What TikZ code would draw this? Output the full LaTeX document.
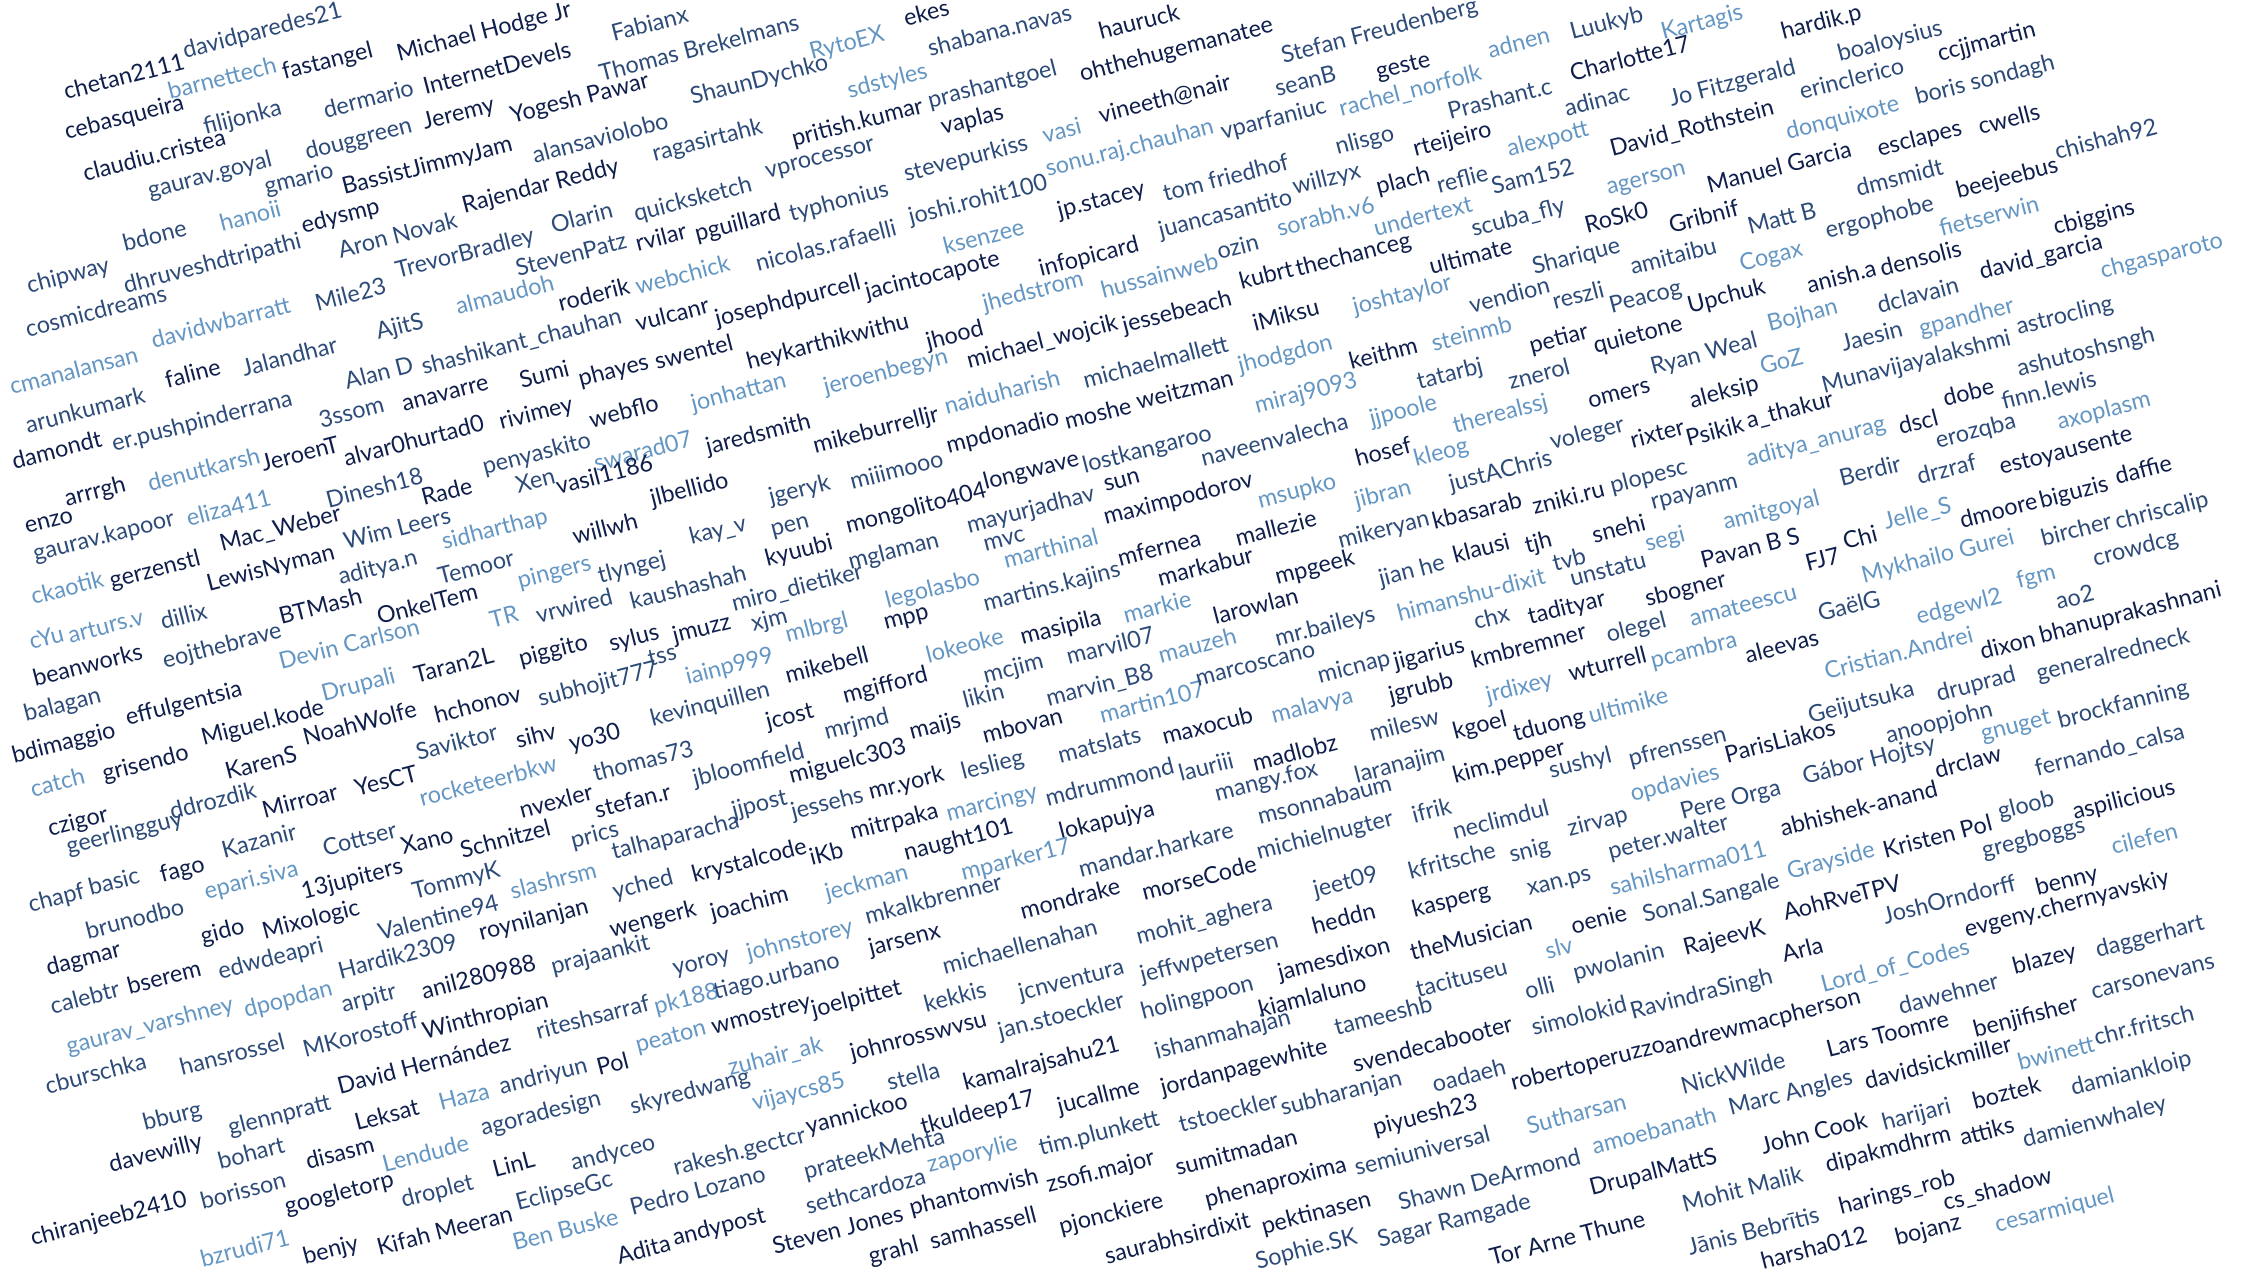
\documentclass[tikz,border=0pt]{standalone}
\usepackage{fontspec}
\setmainfont{Lato}
\definecolor{cd}{HTML}{0F1E4B}
\definecolor{cm}{HTML}{2D4B78}
\definecolor{cl}{HTML}{6496C3}
\newcounter{wc}
\def\OX{0}\def\OY{0}
\newcommand\Wx[4]{\stepcounter{wc}\node[wrd,text=#1] (w\arabic{wc}) at ({\OX+#2/2.703},{-(\OY+#3/3)}) {#4};}
\newcommand\Wd{\Wx{cd}}
\newcommand\Wm{\Wx{cm}}
\newcommand\Wl{\Wx{cl}}
\tikzset{wrd/.style={anchor=base west,rotate=14.5,inner sep=0pt,font=\fontsize{23.4}{27}\selectfont}}
\begin{document}
\begin{tikzpicture}[x=1pt,y=1pt]
\fill[white] (0,0) rectangle (2244,-1286);
\useasboundingbox (0,0) rectangle (2244,-1286);
% zoom 1
\def\OX{0}\def\OY{0}
\Wm{500}{175}{davidparedes21}
\Wd{178}{300}{chetan2111}
\Wl{460}{300}{barnettech}
\Wd{768}{240}{fastangel}
\Wd{1078}{185}{Michael Hodge Jr}
\Wd{180}{420}{cebasqueira}
\Wm{555}{405}{filijonka}
\Wm{880}{355}{dermario}
\Wd{1150}{285}{InternetDevels}
\Wd{230}{545}{claudiu.cristea}
\Wm{830}{480}{douggreen}
\Wd{1148}{390}{Jeremy}
\Wd{1385}{370}{Yogesh Pawar}
\Wm{405}{595}{gaurav.goyal}
\Wm{720}{585}{gmario}
\Wd{930}{585}{BassistJimmyJam}
\Wm{1445}{490}{alansaviolobo}
\Wm{338}{755}{bdone}
\Wl{600}{695}{hanoii}
\Wd{820}{700}{edysmp}
\Wd{1255}{640}{Rajendar Reddy}
\Wm{78}{880}{chipway}
\Wm{340}{880}{dhruveshdtripathi}
\Wm{920}{775}{Aron Novak}
\Wm{1075}{835}{TrevorBradley}
\Wm{1495}{700}{Olarin}
\Wm{75}{1012}{cosmicdreams}
\Wl{415}{1045}{davidwbarratt}
\Wm{858}{935}{Mile23}
\Wm{1400}{830}{StevenPatz}
\Wl{1238}{945}{almaudoh}
\Wd{1515}{935}{roderik}
\Wl{32}{1185}{cmanalansan}
\Wd{452}{1165}{faline}
\Wm{660}{1130}{Jalandhar}
\Wm{1022}{1020}{AjitS}
\Wm{938}{1170}{Alan D}
\Wm{1145}{1125}{shashikant\_chauhan}
\Wm{75}{1300}{arunkumark}
\Wm{868}{1285}{3ssom}
\Wd{1092}{1235}{anavarre}
\Wd{1410}{1165}{Sumi}
\Wd{1355}{1290}{rivimey}
% zoom 2
\def\OX{560}\def\OY{0}
\Wm{145}{125}{Fabianx}
\Wm{112}{245}{Thomas Brekelmans}
\Wl{680}{180}{RytoEX}
\Wd{935}{80}{ekes}
\Wm{1000}{170}{shabana.navas}
\Wd{1462}{120}{hauruck}
\Wm{358}{315}{ShaunDychko}
\Wl{782}{295}{sdstyles}
\Wm{1000}{325}{prashantgoel}
\Wd{1410}{245}{ohthehugemanatee}
\Wm{255}{485}{ragasirtahk}
\Wd{632}{440}{pritish.kumar}
\Wd{1035}{405}{vaplas}
\Wl{1310}{430}{vasi}
\Wd{1462}{370}{vineeth@nair}
\Wm{205}{665}{quicksketch}
\Wm{560}{535}{vprocessor}
\Wm{935}{545}{stevepurkiss}
\Wl{1318}{530}{sonu.raj.chauhan}
\Wd{210}{755}{rvilar}
\Wd{370}{725}{pguillard}
\Wm{625}{665}{typhonius}
\Wm{948}{675}{joshi.rohit100}
\Wd{1350}{655}{jp.stacey}
\Wm{535}{815}{nicolas.rafaelli}
\Wl{1042}{765}{ksenzee}
\Wd{1300}{830}{infopicard}
\Wl{210}{885}{webchick}
\Wd{425}{980}{josephdpurcell}
\Wd{830}{900}{jacintocapote}
\Wl{1148}{935}{jhedstrom}
\Wl{1468}{895}{hussainweb}
\Wd{210}{995}{vulcanr}
\Wd{55}{1160}{phayes}
\Wd{262}{1110}{swentel}
\Wd{510}{1110}{heykarthikwithu}
\Wd{995}{1050}{jhood}
\Wd{1105}{1105}{michael\_wojcik}
\Wd{85}{1285}{webflo}
\Wl{360}{1235}{jonhattan}
\Wl{718}{1185}{jeroenbegyn}
\Wl{1045}{1245}{naiduharish}
\Wm{1420}{1165}{michaelmallett}
\Wd{1370}{1290}{moshe}
% zoom 3
\def\OX{1120}\def\OY{0}
\Wm{442}{190}{Stefan Freudenberg}
\Wl{1000}{175}{adnen}
\Wm{1222}{120}{Luukyb}
\Wl{1468}{120}{Kartagis}
\Wm{425}{290}{seanB}
\Wd{697}{240}{geste}
\Wl{598}{350}{rachel\_norfolk}
\Wd{1222}{245}{Charlotte17}
\Wm{892}{360}{Prashant.c}
\Wm{1207}{350}{adinac}
\Wm{278}{420}{vparfaniuc}
\Wm{588}{465}{nlisgo}
\Wd{798}{470}{rteijeiro}
\Wl{1052}{470}{alexpott}
\Wd{1330}{470}{David\_Rothstein}
\Wm{122}{605}{tom friedhof}
\Wm{472}{585}{willzyx}
\Wd{698}{585}{plach}
\Wm{862}{580}{reflie}
\Wm{1010}{585}{Sam152}
\Wl{1320}{585}{agerson}
\Wm{110}{715}{juancasantito}
\Wl{430}{710}{sorabh.v6}
\Wl{692}{710}{undertext}
\Wm{955}{710}{scuba\_fly}
\Wd{1262}{700}{RoSk0}
\Wd{1490}{700}{Gribnif}
\Wm{268}{780}{ozin}
\Wd{328}{870}{kubrt}
\Wd{480}{830}{thechanceg}
\Wd{842}{825}{ultimate}
\Wm{1120}{825}{Sharique}
\Wm{1385}{825}{amitaibu}
\Wd{12}{1000}{jessebeach}
\Wd{365}{995}{iMiksu}
\Wl{635}{945}{joshtaylor}
\Wm{950}{940}{vendion}
\Wm{1175}{930}{reszli}
\Wm{1328}{940}{Peacog}
\Wd{1540}{940}{Upchuk}
\Wl{325}{1120}{jhodgdon}
\Wd{625}{1110}{keithm}
\Wl{848}{1055}{steinmb}
\Wd{1112}{1060}{petiar}
\Wd{1285}{1060}{quietone}
\Wm{1440}{1125}{Ryan Weal}
\Wd{50}{1230}{weitzman}
\Wl{370}{1240}{miraj9093}
\Wm{808}{1170}{tatarbj}
\Wm{1055}{1170}{znerol}
\Wd{1270}{1225}{omers}
\Wl{680}{1280}{jjpoole}
\Wl{905}{1300}{therealssj}
% zoom 4
\def\OX{1664}\def\OY{0}
\Wd{322}{120}{hardik.p}
\Wm{475}{185}{boaloysius}
\Wd{745}{185}{ccjjmartin}
\Wm{20}{320}{Jo Fitzgerald}
\Wm{372}{300}{erinclerico}
\Wm{685}{315}{boris sondagh}
\Wl{335}{420}{donquixote}
\Wd{122}{580}{Manuel Garcia}
\Wd{582}{470}{esclapes}
\Wd{855}{405}{cwells}
\Wm{525}{590}{dmsmidt}
\Wm{1062}{480}{chishah92}
\Wd{795}{595}{beejeebus}
\Wm{232}{705}{Matt B}
\Wm{442}{715}{ergophobe}
\Wl{750}{710}{fietserwin}
\Wd{1058}{705}{cbiggins}
\Wl{210}{815}{Cogax}
\Wd{392}{880}{anish.a}
\Wd{590}{830}{densolis}
\Wd{858}{840}{david\_garcia}
\Wl{1185}{835}{chgasparoto}
\Wl{285}{995}{Bojhan}
\Wm{582}{940}{dclavain}
\Wm{485}{1055}{Jaesin}
\Wl{695}{1010}{gpandher}
\Wm{958}{1005}{astrocling}
\Wl{265}{1125}{GoZ}
\Wm{432}{1180}{Munavijayalakshmi}
\Wm{960}{1130}{ashutoshsngh}
\Wd{75}{1225}{aleksip}
\Wd{228}{1285}{a\_thakur}
\Wd{760}{1220}{dobe}
\Wm{918}{1230}{finn.lewis}
\Wl{1068}{1290}{axoplasm}
% zoom 5
\def\OX{0}\def\OY{420}
\Wd{38}{148}{damondt}
\Wm{308}{95}{er.pushpinderrana}
\Wd{712}{155}{JeroenT}
\Wd{935}{140}{alvar0hurtad0}
\Wm{1310}{165}{penyaskito}
\Wd{180}{260}{arrrgh}
\Wl{405}{215}{denutkarsh}
\Wm{888}{265}{Dinesh18}
\Wd{1145}{258}{Rade}
\Wm{1400}{220}{Xen}
\Wd{72}{342}{enzo}
\Wm{95}{425}{gaurav.kapoor}
\Wl{510}{320}{eliza411}
\Wd{600}{395}{Mac\_Weber}
\Wm{935}{390}{Wim Leers}
\Wl{1200}{390}{sidharthap}
\Wl{90}{555}{ckaotik}
\Wd{302}{505}{gerzenstl}
\Wd{565}{515}{LewisNyman}
\Wm{920}{495}{aditya.n}
\Wm{1190}{495}{Temoor}
\Wl{1405}{505}{pingers}
\Wl{85}{690}{cYu}
\Wl{190}{670}{arturs.v}
\Wm{440}{630}{dillix}
\Wd{760}{615}{BTMash}
\Wd{1025}{615}{OnkelTem}
\Wl{1330}{625}{TR}
\Wm{1455}{610}{vrwired}
\Wd{95}{800}{beanworks}
\Wm{445}{745}{eojthebrave}
\Wl{760}{750}{Devin Carlson}
\Wl{875}{845}{Drupali}
\Wd{1125}{790}{Taran2L}
\Wd{1408}{740}{piggito}
\Wm{70}{905}{balagan}
\Wd{345}{918}{effulgentsia}
\Wd{1180}{910}{hchonov}
\Wm{1460}{860}{subhojit777}
\Wd{38}{1030}{bdimaggio}
\Wd{550}{978}{Miguel.kode}
\Wd{825}{978}{NoahWolfe}
\Wm{1130}{1022}{Saviktor}
\Wd{1400}{985}{sihv}
\Wl{88}{1132}{catch}
\Wd{282}{1085}{grisendo}
\Wd{615}{1080}{KarenS}
\Wd{715}{1195}{Mirroar}
\Wd{965}{1130}{YesCT}
\Wl{1140}{1160}{rocketeerbkw}
\Wd{135}{1250}{czigor}
\Wm{465}{1200}{ddrozdik}
\Wd{1410}{1195}{nvexler}
\Wm{185}{1305}{geerlingguy}
\Wm{605}{1315}{Kazanir}
\Wm{878}{1310}{Cottser}
\Wd{1090}{1305}{Xano}
\Wd{1250}{1315}{Schnitzel}
% zoom 6
\def\OX{560}\def\OY{420}
\Wl{98}{155}{swarad07}
\Wd{400}{105}{jaredsmith}
\Wd{690}{100}{mikeburrelljr}
\Wd{1050}{100}{mpdonadio}
\Wd{-5}{225}{vasil1186}
\Wd{250}{260}{jlbellido}
\Wm{570}{255}{jgeryk}
\Wm{790}{210}{miiimooo}
\Wd{1150}{210}{longwave}
\Wm{1418}{160}{lostkangaroo}
\Wd{40}{375}{willwh}
\Wm{355}{375}{kay\_v}
\Wm{575}{350}{pen}
\Wd{778}{340}{mongolito404}
\Wm{1105}{340}{mayurjadhav}
\Wd{1475}{215}{sun}
\Wd{1475}{315}{maximpodorov}
\Wm{108}{490}{tlyngej}
\Wd{560}{440}{kyuubi}
\Wm{785}{450}{mglaman}
\Wm{1150}{395}{mvc}
\Wl{1205}{445}{marthinal}
\Wm{195}{570}{kaushashah}
\Wm{470}{575}{miro\_dietiker}
\Wl{885}{565}{legolasbo}
\Wm{1150}{575}{martins.kajins}
\Wd{138}{695}{sylus}
\Wd{310}{670}{jmuzz}
\Wm{522}{635}{xjm}
\Wl{615}{668}{mlbrgl}
\Wd{880}{630}{mpp}
\Wm{243}{740}{tss}
\Wl{345}{795}{iainp999}
\Wd{615}{790}{mikebell}
\Wl{995}{730}{lokeoke}
\Wd{1250}{675}{masipila}
\Wm{1375}{735}{marvil07}
\Wm{1150}{790}{mcjim}
\Wm{250}{920}{kevinquillen}
\Wd{562}{930}{jcost}
\Wd{770}{850}{mgifford}
\Wm{1095}{865}{likin}
\Wm{1320}{860}{marvin\_B8}
\Wd{30}{995}{yo30}
\Wm{720}{960}{mrjmd}
\Wd{950}{960}{maijs}
\Wd{1148}{970}{mbovan}
\Wl{1465}{910}{martin107}
\Wm{95}{1085}{thomas73}
\Wm{365}{1100}{jbloomfield}
\Wd{625}{1090}{miguelc303}
\Wm{1090}{1080}{leslieg}
\Wm{1352}{1030}{matslats}
\Wd{100}{1195}{stefan.r}
\Wm{470}{1195}{jjpost}
\Wm{630}{1200}{jessehs}
\Wd{840}{1140}{mr.york}
\Wd{790}{1260}{mitrpaka}
\Wl{1050}{1205}{marcingy}
\Wm{1318}{1160}{mdrummond}
\Wm{35}{1285}{prics}
\Wm{145}{1320}{talhaparacha}
\Wd{1355}{1260}{lokapujya}
% zoom 7
\def\OX{1120}\def\OY{420}
\Wm{225}{140}{naveenvalecha}
\Wd{642}{140}{hosef}
\Wl{800}{140}{kleog}
\Wm{1168}{90}{voleger}
\Wd{1385}{85}{rixter}
\Wl{378}{265}{msupko}
\Wl{640}{265}{jibran}
\Wm{895}{215}{justAChris}
\Wd{1120}{285}{zniki.ru}
\Wm{1330}{220}{plopesc}
\Wm{1440}{270}{rpayanm}
\Wm{595}{385}{mikeryan}
\Wd{850}{330}{kbasarab}
\Wd{318}{380}{mallezie}
\Wd{0}{440}{mfernea}
\Wd{108}{500}{markabur}
\Wd{425}{495}{mpgeek}
\Wm{705}{500}{jian he}
\Wd{905}{430}{klausi}
\Wd{1100}{400}{tjh}
\Wd{1282}{370}{snehi}
\Wl{1425}{395}{segi}
\Wm{1175}{455}{tvb}
\Wm{1222}{500}{unstatu}
\Wl{15}{610}{markie}
\Wd{258}{615}{larowlan}
\Wm{425}{680}{mr.baileys}
\Wl{755}{605}{himanshu-dixit}
\Wm{962}{630}{chx}
\Wd{1108}{615}{tadityar}
\Wd{1425}{560}{sbogner}
\Wl{110}{730}{mauzeh}
\Wm{210}{800}{marcoscano}
\Wm{540}{790}{micnap}
\Wd{745}{750}{jigarius}
\Wd{955}{745}{kmbremner}
\Wm{1320}{668}{olegel}
\Wd{120}{975}{maxocub}
\Wl{415}{910}{malavya}
\Wd{732}{850}{jgrubb}
\Wl{995}{850}{jrdixey}
\Wd{1218}{785}{wturrell}
\Wl{1440}{745}{pcambra}
\Wm{680}{965}{milesw}
\Wd{905}{960}{kgoel}
\Wd{1068}{965}{tduong}
\Wl{1272}{910}{ultimike}
\Wm{165}{1085}{lauriii}
\Wd{365}{1055}{madlobz}
\Wm{640}{1090}{laranajim}
\Wd{905}{1090}{kim.pepper}
\Wm{1165}{1075}{sushyl}
\Wm{1380}{1040}{pfrenssen}
\Wm{262}{1145}{mangy.fox}
\Wm{378}{1215}{msonnabaum}
\Wm{795}{1210}{ifrik}
\Wm{905}{1260}{neclimdul}
\Wm{1215}{1250}{zirvap}
\Wl{1385}{1145}{opdavies}
\Wm{1520}{1200}{Pere Orga}
\Wm{375}{1320}{michielnugter}
\Wm{1325}{1320}{peter.walter}
% zoom 8
\def\OX{1664}\def\OY{420}
\Wd{65}{80}{Psikik}
\Wd{640}{45}{dscl}
\Wm{740}{85}{erozqba}
\Wl{228}{140}{aditya\_anurag}
\Wm{480}{200}{Berdir}
\Wm{690}{195}{drzraf}
\Wd{912}{165}{estoyausente}
\Wl{165}{330}{amitgoyal}
\Wl{600}{330}{Jelle\_S}
\Wd{805}{325}{dmoore}
\Wd{1020}{265}{biguzis}
\Wd{1225}{195}{daffie}
\Wd{105}{445}{Pavan B S}
\Wd{388}{455}{FJ7}
\Wd{490}{390}{Chi}
\Wl{540}{490}{Mykhailo Gurei}
\Wm{1025}{380}{bircher}
\Wm{1225}{330}{chriscalip}
\Wm{1165}{440}{crowdcg}
\Wl{75}{620}{amateescu}
\Wm{422}{605}{GaëlG}
\Wl{688}{615}{edgewl2}
\Wl{958}{505}{fgm}
\Wm{1065}{570}{ao2}
\Wd{225}{730}{aleevas}
\Wl{440}{780}{Cristian.Andrei}
\Wd{860}{720}{dixon}
\Wd{1020}{670}{bhanuprakashnani}
\Wm{395}{910}{Geijutsuka}
\Wm{742}{845}{druprad}
\Wm{1012}{785}{generalredneck}
\Wd{170}{1030}{ParisLiakos}
\Wm{605}{970}{anoopjohn}
\Wl{862}{965}{gnuget}
\Wm{1070}{925}{brockfanning}
\Wm{380}{1095}{Gábor Hojtsy}
\Wd{738}{1075}{drclaw}
\Wm{1008}{1070}{fernando\_calsa}
\Wd{320}{1250}{abhishek-anand}
\Wm{908}{1200}{gloob}
\Wd{1110}{1200}{aspilicious}
\Wd{598}{1315}{Kristen Pol}
\Wm{865}{1315}{gregboggs}
\Wl{1215}{1305}{cilefen}
% zoom 9
\def\OX{0}\def\OY{846}
\Wm{82}{200}{chapf}
\Wm{245}{150}{basic}
\Wd{438}{110}{fago}
\Wl{558}{160}{epari.siva}
\Wd{820}{160}{13jupiters}
\Wm{1120}{160}{TommyK}
\Wl{1385}{160}{slashrsm}
\Wm{238}{280}{brunodbo}
\Wd{548}{295}{gido}
\Wd{715}{280}{Mixologic}
\Wm{1028}{285}{Valentine94}
\Wd{1300}{285}{roynilanjan}
\Wd{130}{390}{dagmar}
\Wm{142}{505}{calebtr}
\Wd{350}{445}{bserem}
\Wm{595}{400}{edwdeapri}
\Wm{920}{400}{Hardik2309}
\Wm{1495}{385}{prajaankit}
\Wl{185}{625}{gaurav\_varshney}
\Wl{665}{515}{dpopdan}
\Wm{928}{500}{arpitr}
\Wd{1145}{460}{anil280988}
\Wm{128}{745}{cburschka}
\Wm{492}{690}{hansrossel}
\Wm{825}{635}{MKorostoff}
\Wd{1148}{580}{Winthropian}
\Wm{1455}{580}{riteshsarraf}
\Wd{918}{745}{David Hernández}
\Wl{1192}{795}{Haza}
\Wm{1355}{745}{andriyun}
\Wm{392}{855}{bburg}
\Wm{622}{870}{glennpratt}
\Wd{965}{855}{Leksat}
\Wm{1305}{870}{agoradesign}
\Wd{300}{980}{davewilly}
\Wm{595}{970}{bohart}
\Wd{832}{970}{disasm}
\Wl{1040}{980}{Lendude}
\Wd{1338}{995}{LinL}
\Wd{88}{1200}{chiranjeeb2410}
\Wm{548}{1090}{borisson}
\Wd{775}{1105}{googletorp}
\Wm{1090}{1085}{droplet}
\Wm{1400}{1095}{EclipseGc}
\Wl{548}{1265}{bzrudi71}
\Wd{825}{1255}{benjy}
\Wd{1025}{1230}{Kifah Meeran}
\Wl{1392}{1215}{Ben Buske}
% zoom 10
\def\OX{560}\def\OY{846}
\Wm{148}{160}{yched}
\Wd{362}{110}{krystalcode}
\Wd{680}{60}{iKb}
\Wd{935}{45}{naught101}
\Wl{722}{165}{jeckman}
\Wl{1090}{105}{mparker17}
\Wm{1408}{95}{mandar.harkare}
\Wd{140}{275}{wengerk}
\Wd{412}{225}{joachim}
\Wm{830}{235}{mkalkbrenner}
\Wd{1250}{220}{mondrake}
\Wm{310}{390}{yoroy}
\Wl{510}{345}{johnstorey}
\Wd{840}{330}{jarsenx}
\Wm{1040}{385}{michaellenahan}
\Wl{260}{505}{pk188}
\Wm{420}{460}{tiago.urbano}
\Wm{990}{500}{kekkis}
\Wm{1245}{465}{jcnventura}
\Wl{210}{620}{peaton}
\Wd{415}{565}{wmostrey}
\Wd{685}{515}{joelpittet}
\Wd{105}{690}{Pol}
\Wd{790}{645}{johnrosswvsu}
\Wm{1190}{580}{jan.stoeckler}
\Wl{460}{690}{zuhair\_ak}
\Wm{195}{805}{skyredwang}
\Wl{525}{795}{vijaycs85}
\Wm{890}{735}{stella}
\Wd{1095}{735}{kamalrajsahu21}
\Wd{1350}{805}{jucallme}
\Wm{35}{975}{andyceo}
\Wm{312}{990}{rakesh.gectcr}
\Wd{670}{865}{yannickoo}
\Wd{980}{865}{tkuldeep17}
\Wm{665}{1000}{prateekMehta}
\Wl{998}{980}{zaporylie}
\Wm{1300}{930}{tim.plunkett}
\Wm{195}{1110}{Pedro Lozano}
\Wm{670}{1105}{sethcardoza}
\Wd{950}{1110}{phantomvish}
\Wd{1320}{1040}{zsofi.major}
\Wd{160}{1255}{Adita}
\Wd{310}{1200}{andypost}
\Wd{580}{1225}{Steven Jones}
\Wd{840}{1255}{grahl}
\Wd{1005}{1210}{samhassell}
\Wd{1355}{1165}{pjonckiere}
\Wd{1478}{1255}{saurabhsirdixit}
% zoom 11
\def\OX{1120}\def\OY{846}
\Wm{785}{100}{kfritsche}
\Wm{1058}{50}{snig}
\Wd{65}{165}{morseCode}
\Wm{528}{155}{jeet09}
\Wm{1105}{150}{xan.ps}
\Wl{1330}{150}{sahilsharma011}
\Wm{50}{295}{mohit\_aghera}
\Wd{525}{265}{heddn}
\Wd{795}{215}{kasperg}
\Wd{1225}{265}{oenie}
\Wm{1418}{230}{Sonal.Sangale}
\Wm{60}{410}{jeffwpetersen}
\Wd{432}{405}{jamesdixon}
\Wd{790}{345}{theMusician}
\Wl{1155}{340}{slv}
\Wm{1230}{405}{pwolanin}
\Wm{62}{520}{holingpoon}
\Wd{380}{515}{kiamlaluno}
\Wm{805}{455}{tacituseu}
\Wm{1100}{460}{olli}
\Wm{1118}{570}{simolokid}
\Wm{1385}{520}{RavindraSingh}
\Wm{100}{640}{ishanmahajan}
\Wm{585}{570}{tameeshb}
\Wd{115}{750}{jordanpagewhite}
\Wd{635}{680}{svendecabooter}
\Wd{1062}{735}{robertoperuzzo}
\Wm{165}{860}{tstoeckler}
\Wm{440}{810}{subharanjan}
\Wm{850}{740}{oadaeh}
\Wd{690}{870}{piyuesh23}
\Wl{1105}{865}{Sutharsan}
\Wd{155}{990}{sumitmadan}
\Wd{235}{1085}{phenaproxima}
\Wm{640}{990}{semiuniversal}
\Wl{1282}{925}{amoebanath}
\Wm{758}{1095}{Shawn DeArmond}
\Wd{1275}{1050}{DrupalMattS}
\Wd{388}{1165}{pektinasen}
\Wm{372}{1270}{Sophie.SK}
\Wm{702}{1205}{Sagar Ramgade}
\Wd{1005}{1260}{Tor Arne Thune}
% zoom 12
\def\OX{1664}\def\OY{846}
\Wl{338}{100}{Grayside}
\Wd{328}{225}{AohRveTPV}
\Wm{598}{235}{JoshOrndorff}
\Wd{1010}{150}{benny}
\Wd{58}{330}{RajeevK}
\Wd{325}{350}{Arla}
\Wd{818}{275}{evgeny.chernyavskiy}
\Wl{430}{440}{Lord\_of\_Codes}
\Wd{948}{385}{blazey}
\Wm{1172}{335}{daggerhart}
\Wd{6}{625}{andrewmacpherson}
\Wm{640}{505}{dawehner}
\Wm{1160}{460}{carsonevans}
\Wm{52}{745}{NickWilde}
\Wd{445}{635}{Lars Toomre}
\Wd{842}{575}{benjifisher}
\Wm{180}{810}{Marc Angles}
\Wd{548}{730}{davidsickmiller}
\Wl{962}{675}{bwinett}
\Wm{1168}{600}{chr.fritsch}
\Wd{268}{925}{John Cook}
\Wm{595}{855}{harijari}
\Wd{840}{790}{boztek}
\Wm{1105}{750}{damiankloip}
\Wm{55}{1100}{Mohit Malik}
\Wd{442}{980}{dipakmdhrm}
\Wd{805}{900}{attiks}
\Wm{975}{905}{damienwhaley}
\Wd{478}{1105}{harings\_rob}
\Wd{760}{1095}{cs\_shadow}
\Wm{70}{1230}{Jānis Bebrītis}
\Wd{268}{1270}{harsha012}
\Wd{630}{1200}{bojanz}
\Wl{900}{1160}{cesarmiquel}
\end{tikzpicture}
\end{document}
